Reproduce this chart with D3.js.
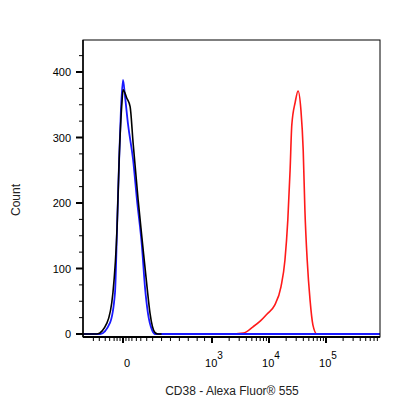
<!DOCTYPE html>
<html>
<head>
<meta charset="utf-8">
<script src="https://cdn.jsdelivr.net/npm/d3@7"></script>
<style>
  body { margin: 0; background: #fff; }
  text { font-family: "Liberation Sans", Arial, sans-serif; }
</style>
</head>
<body>
<div id="chart"></div>
<script>
// x values are display (biexponential) units: 0 -> 0, 3 -> 10^3, 4 -> 10^4, 5 -> 10^5
var blueX = [-1.35, -0.77, -0.44, -0.27, -0.20, -0.13, -0.07, 0, 0.07, 0.17, 0.34, 0.47, 0.64, 0.74, 0.84, 0.98, 1.08, 5.95];
var blueY = [0, 0, 17, 63, 163, 266, 342, 388, 362, 320, 266, 205, 133, 72, 32, 6, 0, 0];
var blackX = [-1.35, -0.88, -0.54, -0.34, -0.20, -0.13, -0.03, 0, 0.13, 0.24, 0.34, 0.51, 0.67, 0.81, 0.91, 1.08, 1.18, 1.3];
var blackY = [0, 0, 17, 63, 163, 266, 357, 373, 360, 347, 292, 205, 133, 72, 32, 2, 0, 0];
var redX = [1.2, 3.30, 3.55, 3.72, 3.85, 3.97, 4.10, 4.21, 4.28, 4.33, 4.37, 4.40, 4.46, 4.51, 4.56, 4.60, 4.63, 4.67, 4.72, 4.77, 4.84, 4.93, 5.95];
var redY = [0, 0, 1.5, 11, 20, 31, 44, 72, 113, 174, 250, 319, 354, 371, 342, 281, 189, 113, 52, 14, 0, 0, 0];
var yTicks = [0, 100, 200, 300, 400];
var xMajor = [0, 3, 4, 5];
var xLabels = ["0", "3", "4", "5"];

var W = 416, H = 416;
var pl = 83, pr = 380, pt = 40, pb = 337;

var x = d3.scaleLinear()
  .domain([-1.35, 0, 3, 4, 5, 5.95])
  .range([pl, 123, 212, 269, 326, pr]);
var y = d3.scaleLinear().domain([0, 400]).range([334, 72]);

var svg = d3.select("#chart").append("svg").attr("width", W).attr("height", H);

// minor ticks on x
var xMinor = [-1, -0.8, -0.6, -0.45, -0.3, -0.2, -0.1, 0.1, 0.2, 0.3, 0.45, 0.6, 0.8, 1, 1.3, 1.6, 1.9, 2.2, 2.5, 2.75];
[3, 4, 5].forEach(function (k) {
  for (var m = 2; m <= 9; m++) {
    var v = k + Math.log10(m);
    if (v < 5.95) xMinor.push(v);
  }
});

var g = svg.append("g");
g.selectAll(".xmin").data(xMinor).enter().append("line")
  .attr("x1", function (d) { return x(d); }).attr("x2", function (d) { return x(d); })
  .attr("y1", pb).attr("y2", pb + 4)
  .attr("stroke", "#000").attr("stroke-width", 1);
g.selectAll(".xmaj").data(xMajor).enter().append("line")
  .attr("x1", function (d) { return x(d); }).attr("x2", function (d) { return x(d); })
  .attr("y1", pb).attr("y2", pb + 6)
  .attr("stroke", "#000").attr("stroke-width", 2);

// y ticks
var yMinor = d3.range(0, 450, 25);
g.selectAll(".ymin").data(yMinor).enter().append("line")
  .attr("x1", pl - 4).attr("x2", pl)
  .attr("y1", function (d) { return y(d); }).attr("y2", function (d) { return y(d); })
  .attr("stroke", "#000").attr("stroke-width", 1);
g.selectAll(".ymaj").data(yTicks).enter().append("line")
  .attr("x1", pl - 7).attr("x2", pl)
  .attr("y1", function (d) { return y(d); }).attr("y2", function (d) { return y(d); })
  .attr("stroke", "#000").attr("stroke-width", 2);
g.selectAll(".ylab").data(yTicks).enter().append("text")
  .attr("x", pl - 12).attr("y", function (d) { return y(d) + 4; })
  .attr("text-anchor", "end").attr("font-size", 11).text(function (d) { return d; });

// x labels
xMajor.forEach(function (v, i) {
  if (v === 0) {
    svg.append("text").attr("x", 127).attr("y", 367).attr("text-anchor", "middle")
      .attr("font-size", 11).text("0");
  } else {
    var t = svg.append("text").attr("x", x(v) + 2).attr("y", 367).attr("text-anchor", "middle").attr("font-size", 11);
    t.append("tspan").text("10");
    t.append("tspan").attr("dy", -8).attr("font-size", 10).text(xLabels[i]);
  }
});

svg.append("text").attr("x", 232).attr("y", 395).attr("text-anchor", "middle")
  .attr("font-size", 12).attr("fill", "#222").text("CD38 - Alexa Fluor® 555");
svg.append("text").attr("transform", "translate(20,200) rotate(-90)")
  .attr("text-anchor", "middle").attr("font-size", 12).attr("fill", "#222").text("Count");

// curves
var line = d3.line().curve(d3.curveMonotoneX);
function draw(xs, ys, color, w) {
  svg.append("path")
    .attr("d", line(xs.map(function (v, i) { return [x(v), y(ys[i])]; })))
    .attr("fill", "none").attr("stroke", color).attr("stroke-width", w);
}
draw(redX, redY, "#ff1a1a", 1.6);
draw(blueX, blueY, "#1a1aff", 1.8);
draw(blackX, blackY, "#000", 1.6);

// frame
svg.append("rect").attr("x", pl).attr("y", pt).attr("width", pr - pl).attr("height", pb - pt)
  .attr("fill", "none").attr("stroke", "#000").attr("stroke-width", 1);
svg.append("line").attr("x1", pl).attr("x2", pr).attr("y1", pb).attr("y2", pb)
  .attr("stroke", "#000").attr("stroke-width", 2);
svg.append("line").attr("x1", pl).attr("x2", pl).attr("y1", pt).attr("y2", pb)
  .attr("stroke", "#000").attr("stroke-width", 1.5);
</script>
</body>
</html>
